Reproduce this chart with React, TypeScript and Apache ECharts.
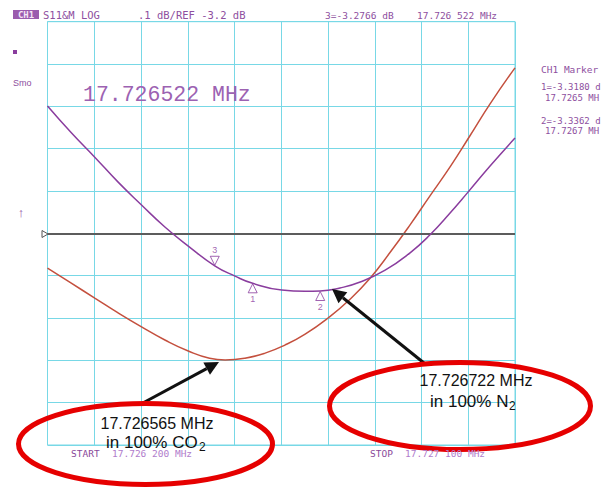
import React, { useEffect, useRef } from "react";
import * as echarts from "echarts";

// Frequency offsets (Hz) from START = 17.726 200 MHz; span 900 Hz (90 Hz/div)
// Amplitude in dB, REF -3.2 dB at centre, 0.1 dB/div
const xTicksHz = { min: 0, max: 900, interval: 90 };
const yTicksDb = { min: -3.7, max: -2.7, interval: 0.1 };
const refDb = -3.2;

const purpleFreq = [0, 45, 91, 136, 181, 226, 271, 322, 361, 395, 451, 496, 525, 563, 602, 650, 698, 736, 775, 810, 852, 900];
const purpleDb = [-2.899, -2.961, -3.02, -3.079, -3.133, -3.185, -3.23, -3.2766, -3.301, -3.318, -3.334, -3.337, -3.3362, -3.329, -3.315, -3.287, -3.246, -3.204, -3.152, -3.102, -3.041, -2.975];

const redFreq = [0, 45, 91, 136, 181, 226, 271, 312, 342, 380, 419, 457, 496, 540, 583, 621, 659, 698, 736, 775, 813, 852, 900];
const redDb = [-3.282, -3.317, -3.353, -3.388, -3.421, -3.452, -3.478, -3.495, -3.499, -3.495, -3.483, -3.464, -3.438, -3.4, -3.355, -3.306, -3.246, -3.18, -3.112, -3.043, -2.97, -2.894, -2.809];

const markerNames = ["3", "1", "2"];
const markerFreq = [322, 395, 525];
const markerDb = [-3.2766, -3.318, -3.3362];

const headerTexts = ["S11&M LOG", ".1 dB/REF -3.2 dB", "3=-3.2766 dB", "17.726 522 MHz"];
// the analyzer's marker panel is cut off at the right edge of the screen
const markerPanel = ["CH1 Marker", "1=-3.3180 d", "17.7265 MH", "2=-3.3362 d", "17.7267 MH"];
const bigFreqText = "17.726522 MHz";
const startText = ["START", "17.726 200 MHz"];
const stopText = ["STOP", "17.727 100 MHz"];
const notes = [
  { f: "17.726565 MHz", gas: "in 100% CO", sub: "2" },
  { f: "17.726722 MHz", gas: "in 100% N", sub: "2" },
];

const PURPLE = "#8a3d9e";
const LABEL = "#8e4fa0";
const RED = "#c4503e";
const GRIDC = "#78d8e6";
const MONO = '"DejaVu Sans Mono", monospace';
const LMONO = '"Liberation Mono", monospace';
const SANS = '"Liberation Sans", Arial, sans-serif';

function arrow(tail: number[], tip: number[], color: string) {
  const dx = tip[0] - tail[0];
  const dy = tip[1] - tail[1];
  const L = Math.hypot(dx, dy);
  const ux = dx / L, uy = dy / L;
  const len = 14, half = 7;
  const bx = tip[0] - ux * len, by = tip[1] - uy * len;
  const px = -uy, py = ux;
  return [
    { type: "line", shape: { x1: tail[0], y1: tail[1], x2: bx, y2: by }, style: { stroke: color, lineWidth: 3 }, z: 20 },
    {
      type: "polygon",
      shape: { points: [[tip[0], tip[1]], [bx + px * half, by + py * half], [bx - px * half, by - py * half]] },
      style: { fill: color },
      z: 20,
    },
  ];
}

export default function App() {
  const ref = useRef<HTMLDivElement>(null);
  useEffect(() => {
    if (!ref.current) return;
    const chart = echarts.init(ref.current, null, { renderer: "svg" });
    const t = (x: number, y: number, text: string, font: string, fill: string, align = "left", extra: any = {}) => ({
      type: "text",
      x,
      y,
      z: 30,
      style: { text, font, fill, align, verticalAlign: "middle", ...extra },
    });
    const graphic: any[] = [
      { type: "rect", shape: { x: 13, y: 10, width: 26, height: 9 }, style: { fill: "#9b5cae" }, z: 30 },
      t(26, 15, "CH1", "bold 9px " + MONO, "#f4e6f6", "center"),
      t(43, 15, headerTexts[0], "10.5px " + MONO, LABEL),
      t(138, 15, headerTexts[1], "10.5px " + MONO, LABEL),
      t(325, 15, headerTexts[2], "9.5px " + MONO, LABEL),
      t(417, 15, headerTexts[3], "9.5px " + MONO, LABEL),
      { type: "rect", shape: { x: 13, y: 50, width: 4, height: 4 }, style: { fill: PURPLE }, z: 30 },
      t(13, 83, "Smo", "9px " + SANS, LABEL),
      t(21, 212, "\u2191", "13px " + SANS, LABEL, "center"),
      {
        type: "polygon",
        shape: { points: [[42, 230.5], [48, 234], [42, 237.5]] },
        style: { fill: "#fff", stroke: "#555", lineWidth: 1 },
        z: 30,
      },
      t(83, 95, bigFreqText, "21.5px " + LMONO, "#9c62b2"),
      t(541, 69, markerPanel[0], "9.5px " + MONO, LABEL),
      t(541, 87, markerPanel[1], "9px " + MONO, LABEL),
      t(545, 98, markerPanel[2], "9px " + MONO, LABEL),
      t(541, 121, markerPanel[3], "9px " + MONO, LABEL),
      t(545, 131, markerPanel[4], "9px " + MONO, LABEL),
      t(71, 453, startText[0], "9.5px " + MONO, "#8a4a9a"),
      t(112, 453, startText[1], "9.5px " + MONO, "#b07ccc"),
      t(370, 453, stopText[0], "9.5px " + MONO, "#8a4a9a"),
      t(405, 453, stopText[1], "9.5px " + MONO, "#b07ccc"),
      {
        type: "ellipse",
        shape: { cx: 145.5, cy: 444, rx: 127, ry: 40.5 },
        style: { fill: "transparent", stroke: "#e60000", lineWidth: 5 },
        z: 25,
      },
      {
        type: "ellipse",
        shape: { cx: 460, cy: 406, rx: 130.5, ry: 43.5 },
        style: { fill: "transparent", stroke: "#e60000", lineWidth: 5 },
        z: 25,
      },
      ...arrow([141, 404], [219, 362], "#111"),
      ...arrow([424, 363], [332, 289], "#111"),
      t(157, 423, notes[0].f, "16px " + SANS, "#111", "center"),
      t(106, 442, notes[0].gas, "17px " + SANS, "#111", "left"),
      t(199, 447, notes[0].sub, "12px " + SANS, "#111", "left"),
      t(476, 380, notes[1].f, "16px " + SANS, "#111", "center"),
      t(430, 401, notes[1].gas, "17px " + SANS, "#111", "left"),
      t(509, 406, notes[1].sub, "12px " + SANS, "#111", "left"),
    ];

    const axisCommon = {
      type: "value",
      axisLine: { show: false },
      axisTick: { show: false },
      axisLabel: { show: false },
      splitLine: { show: true, lineStyle: { color: GRIDC, width: 1 } },
    };

    chart.setOption({
      animation: false,
      backgroundColor: "#ffffff",
      grid: { left: 47.5, top: 21.7, width: 467.5, height: 423.3, show: true, borderColor: GRIDC, borderWidth: 1 },
      xAxis: { ...axisCommon, ...xTicksHz },
      yAxis: { ...axisCommon, ...yTicksDb },
      series: [
        {
          type: "line",
          name: "purple",
          data: purpleFreq.map((f, i) => [f, purpleDb[i]]),
          smooth: true,
          symbol: "none",
          lineStyle: { color: PURPLE, width: 1.5 },
          z: 5,
          markLine: {
            silent: true,
            symbol: ["none", "none"],
            label: { show: false },
            lineStyle: { color: "#5c5c5c", width: 2, type: "solid" },
            data: [{ yAxis: refDb }],
          },
        },
        {
          type: "line",
          name: "red",
          data: redFreq.map((f, i) => [f, redDb[i]]),
          smooth: true,
          symbol: "none",
          lineStyle: { color: RED, width: 1.5 },
          z: 4,
        },
        {
          type: "scatter",
          data: [{ name: markerNames[0], value: [markerFreq[0], markerDb[0]] }],
          symbol: "triangle",
          symbolRotate: 180,
          symbolSize: [9, 9],
          symbolOffset: [0, -5],
          itemStyle: { color: "#ffffff", borderColor: PURPLE, borderWidth: 1 },
          label: { show: true, position: "top", distance: 1, formatter: "{b}", color: PURPLE, fontSize: 9, fontFamily: SANS },
          z: 10,
        },
        {
          type: "scatter",
          data: [1, 2].map((i) => ({ name: markerNames[i], value: [markerFreq[i], markerDb[i]] })),
          symbol: "triangle",
          symbolSize: [9, 9],
          symbolOffset: [0, 5],
          itemStyle: { color: "#ffffff", borderColor: PURPLE, borderWidth: 1 },
          label: { show: true, position: "bottom", distance: 1, formatter: "{b}", color: PURPLE, fontSize: 9, fontFamily: SANS },
          z: 10,
        },
      ],
      graphic,
    });
    return () => chart.dispose();
  }, []);
  return <div ref={ref} style={{ position: "fixed", left: 0, top: 0, width: 604, height: 490 }} />;
}
